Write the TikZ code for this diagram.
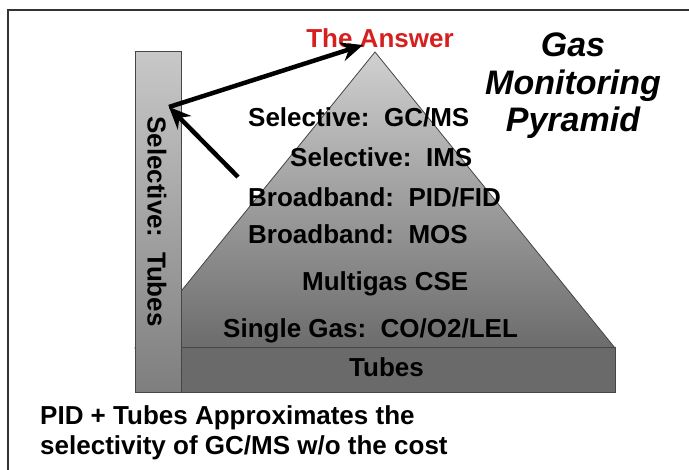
\documentclass[tikz,border=0pt]{standalone}
\usepackage{fontspec}
\setmainfont{Liberation Sans}
\usetikzlibrary{arrows.meta}
\definecolor{answerred}{RGB}{214,32,32}
\definecolor{pyrtop}{RGB}{208,208,208}
\definecolor{pyrbot}{RGB}{108,108,108}
\definecolor{bartop}{RGB}{200,200,200}
\definecolor{barbot}{RGB}{126,126,126}
\definecolor{basegray}{RGB}{106,106,106}
\definecolor{edgegray}{RGB}{70,70,70}
\begin{document}
\begin{tikzpicture}[x=1pt, y=-1pt,
	lbl/.style={font=\fontsize{26}{30}\selectfont\bfseries, inner sep=0pt},
	bigtitle/.style={font=\fontsize{34}{37.5}\selectfont\bfseries\itshape, inner sep=0pt, align=center},
	fatarrow/.style={line width=4.5pt, -{Stealth[length=22pt, width=19pt]}}]
			\useasboundingbox (0,0) rectangle (689,470);
			\fill[white] (0,0) rectangle (689,470);
			\draw[line width=1.5pt, black!80] (8,470) -- (8,10) -- (689,10);
			\shade[top color=pyrtop, bottom color=pyrbot, draw=edgegray, line width=0.8pt] (375,52) -- (615,348) -- (135,348) -- cycle;
			\filldraw[fill=basegray, draw=edgegray, line width=1pt] (181,348) rectangle (615,393);
			\shade[top color=bartop, bottom color=barbot, draw=edgegray, line width=1pt] (135,52) rectangle (181,393);
			\node[lbl, anchor=base west] (gcms) at (248,126.5) {Selective:\ \ GC/MS};
			\node[lbl, anchor=base west] (ims) at (290,166.5) {Selective:\ \ IMS};
			\node[lbl, anchor=base west] (pidfid) at (248,206.5) {Broadband:\ \ PID/FID};
			\node[lbl, anchor=base west] (mos) at (248,244) {Broadband:\ \ MOS};
			\node[lbl, anchor=base west] (cse) at (302,291) {Multigas CSE};
			\node[lbl, anchor=base west] (single) at (223,338) {Single Gas:\ \ CO/O2/LEL};
			\node[lbl, anchor=base] (tubes) at (386.5,377) {Tubes};
			\node[lbl, rotate=-90] (seltubes) at (157,221.5) {Selective:\ \ Tubes};
			\node[lbl, anchor=base, text=answerred] (answer) at (380,48) {The Answer};
			\node[bigtitle, anchor=base] (title) at (573,132) {Gas\\Monitoring\\Pyramid};
			\node[lbl, anchor=base west, align=left] (note) at (40,454.5) {PID + Tubes Approximates the\\selectivity of GC/MS w/o the cost};
			\coordinate (from) at (238,177);
			\coordinate (bend) at (169,107);
			\coordinate (top) at (363,45);
			\draw[fatarrow] (from) -- (bend);
			\draw[fatarrow] (bend) -- (top);
			\end{tikzpicture}
\end{document}
